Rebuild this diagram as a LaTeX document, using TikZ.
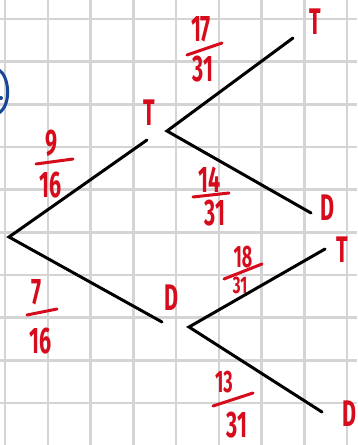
\documentclass[tikz,border=0pt]{standalone}
\usepackage{fontspec}
\setmainfont{Fira Sans}
\usepackage{graphicx}
\definecolor{ink}{RGB}{214,12,28}
\definecolor{gridc}{RGB}{212,212,212}
\definecolor{penblue}{RGB}{22,70,150}
\newcommand{\hw}[1]{\scalebox{0.58}[1]{\fontsize{37}{37}\selectfont\bfseries #1}}
\newcommand{\hws}[1]{\scalebox{0.58}[1]{\fontsize{31}{31}\selectfont\bfseries #1}}
\newcommand{\hwt}[1]{\scalebox{0.62}[1]{\fontsize{24}{24}\selectfont\bfseries #1}}
\tikzset{
  lbl/.style={text=ink, inner sep=0pt, font=\normalfont},
  branch/.style={draw=black, line width=3pt, line cap=round},
  fbar/.style={draw=ink, line width=3pt, line cap=round},
  gridline/.style={draw=gridc, line width=2.5pt}
}
\begin{document}
\begin{tikzpicture}[x=1pt,y=-1pt]
\useasboundingbox (0,0) rectangle (357,445);
\fill[white] (0,0) rectangle (357,445);
% grid
\foreach \i in {0,...,8} {\draw[gridline] ({5+42.75*\i},0) -- ({5+42.75*\i},445);}
\foreach \j in {0,...,9} {\draw[gridline] (0,{19+42.67*\j}) -- (357,{19+42.67*\j});}
% blue partial circle
\draw[penblue, line width=3pt] (-1,70) .. controls (9,76) and (12,104) .. (-1,113);
\fill[penblue] (1,98) circle (2pt);
% branch points
\coordinate (root) at (9,237);
\coordinate (tend) at (147,140);
\coordinate (dend) at (162,322);
\coordinate (tfork) at (167,131);
\coordinate (dfork) at (189,327);
\coordinate (tt) at (293,38);
\coordinate (td) at (311,213);
\coordinate (dt) at (325,249);
\coordinate (dd) at (322,412);
\draw[branch] (tend) -- (root) -- (dend);
\draw[branch] (tt) -- (tfork) -- (td);
\draw[branch] (dt) -- (dfork) -- (dd);
% outcome letters
\node[lbl] (lT) at (149,113) {\hw{T}};
\node[lbl] (lD) at (171,298) {\hw{D}};
\node[lbl] (lTT) at (315,22) {\hw{T}};
\node[lbl] (lTD) at (327,208) {\hw{D}};
\node[lbl] (lDT) at (342,250) {\hw{T}};
\node[lbl] (lDD) at (349,414) {\hw{D}};
% 9/16
\node[lbl] (n1) at (52,143) {\hw{9}};
\draw[fbar] (36,164) -- (73,159);
\node[lbl] (m1) at (51,185) {\hw{16}};
% 7/16
\node[lbl] (n2) at (37,292) {\hw{7}};
\draw[fbar] (27,315) -- (57,309);
\node[lbl] (m2) at (41,341) {\hw{16}};
% 17/31
\node[lbl] (n3) at (201,29) {\hw{17}};
\draw[fbar] (187,55) -- (222,43);
\node[lbl] (m3) at (203,69) {\hw{31}};
% 14/31
\node[lbl] (n4) at (210,180) {\hw{14}};
\draw[fbar] (193,197) -- (229,193);
\node[lbl] (m4) at (215,213) {\hw{31}};
% 18/31
\node[lbl] (n5) at (243,257) {\hws{18}};
\draw[fbar] (224,279) -- (262,264);
\node[lbl] (m5) at (240,285) {\hwt{31}};
% 13/31
\node[lbl] (n6) at (224,382) {\hws{13}};
\draw[fbar] (213,406) -- (253,393);
\node[lbl] (m6) at (237,425) {\hw{31}};
\end{tikzpicture}
\end{document}
